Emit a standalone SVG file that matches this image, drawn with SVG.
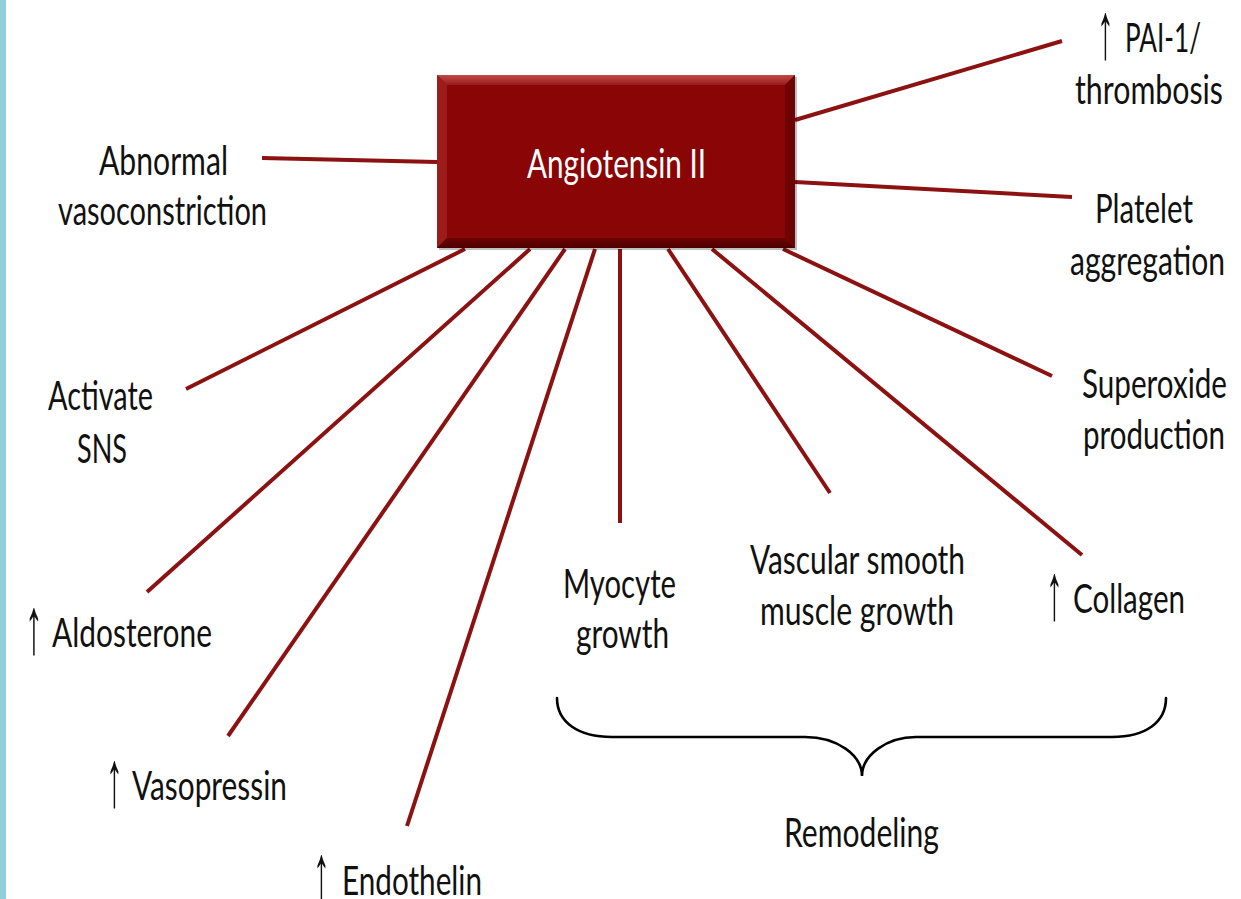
<svg xmlns="http://www.w3.org/2000/svg" width="1241" height="899" viewBox="0 0 1241 899">
  <style>
    .lbl { font-family: Lato, "Open Sans", "Liberation Sans", sans-serif; font-size: 31.5px; fill: #111; }
    .arr { font-family: "Liberation Sans", "DejaVu Sans", sans-serif; font-size: 80px; fill: #111; }
    .title { font-family: Lato, "Open Sans", "Liberation Sans", sans-serif; font-size: 31.5px; fill: #ffffff; }
    .conn { stroke: #8C1212; stroke-width: 4; stroke-linecap: butt; fill: none; }
    .brace { stroke: #000; stroke-width: 2.6; fill: none; stroke-linecap: round; }
  </style>
  <defs>
    <linearGradient id="gTop" x1="0" y1="0" x2="0" y2="1">
      <stop offset="0" stop-color="#C24A4A"/>
      <stop offset="1" stop-color="#9A1A1A"/>
    </linearGradient>
    <linearGradient id="gBot" x1="0" y1="0" x2="0" y2="1">
      <stop offset="0" stop-color="#6E0202"/>
      <stop offset="1" stop-color="#4A0000"/>
    </linearGradient>
  </defs>
  <rect x="0" y="0" width="1241" height="899" fill="#ffffff"/>
  <rect x="0" y="0" width="6" height="899" fill="#92CDDC"/>

  <g id="connectors">
    <line class="conn" x1="262" y1="158" x2="437" y2="162"/>
    <line class="conn" x1="795" y1="120" x2="1062" y2="41"/>
    <line class="conn" x1="795" y1="182" x2="1072" y2="197"/>
    <line class="conn" x1="783" y1="249" x2="1052" y2="376"/>
    <line class="conn" x1="712" y1="249" x2="1082" y2="555"/>
    <line class="conn" x1="668" y1="249" x2="830" y2="493"/>
    <line class="conn" x1="620" y1="249" x2="620" y2="523"/>
    <line class="conn" x1="595" y1="249" x2="407" y2="826"/>
    <line class="conn" x1="565" y1="249" x2="228" y2="736"/>
    <line class="conn" x1="530" y1="249" x2="147" y2="592"/>
    <line class="conn" x1="465" y1="249" x2="186" y2="389"/>
  </g>

  <g id="angiotensin">
    <rect x="439" y="77" width="358" height="173" fill="#000" opacity="0.25"/>
    <rect x="437" y="75" width="358" height="173" fill="#8A0505"/>
    <polygon points="437,75 795,75 785,85 447,85" fill="url(#gTop)"/>
    <polygon points="437,75 447,85 447,238 437,248" fill="#9C1C1C"/>
    <polygon points="795,75 795,248 785,238 785,85" fill="#6E0303"/>
    <polygon points="437,248 447,238 785,238 795,248" fill="url(#gBot)"/>
    <text class="title" transform="translate(527,178) scale(1,1.27)" textLength="179" lengthAdjust="spacingAndGlyphs">Angiotensin II</text>
  </g>

  <g id="abnormal-vasoconstriction">
    <text class="lbl" transform="translate(99,175) scale(1,1.27)" textLength="129" lengthAdjust="spacingAndGlyphs">Abnormal</text>
    <text class="lbl" transform="translate(58,225) scale(1,1.27)" textLength="209" lengthAdjust="spacingAndGlyphs">vasoconstriction</text>
  </g>

  <g id="pai-1">
    <text class="arr" transform="translate(1097,58) scale(0.25,1)" textLength="68" lengthAdjust="spacingAndGlyphs">↑</text>
    <text class="lbl" transform="translate(1125,52) scale(1,1.27)" textLength="76" lengthAdjust="spacingAndGlyphs">PAI-1/</text>
    <text class="lbl" transform="translate(1075,104) scale(1,1.27)" textLength="148" lengthAdjust="spacingAndGlyphs">thrombosis</text>
  </g>

  <g id="platelet-aggregation">
    <text class="lbl" transform="translate(1095,223) scale(1,1.27)" textLength="98" lengthAdjust="spacingAndGlyphs">Platelet</text>
    <text class="lbl" transform="translate(1070,275) scale(1,1.27)" textLength="155" lengthAdjust="spacingAndGlyphs">aggregation</text>
  </g>

  <g id="superoxide-production">
    <text class="lbl" transform="translate(1082,398) scale(1,1.27)" textLength="145" lengthAdjust="spacingAndGlyphs">Superoxide</text>
    <text class="lbl" transform="translate(1083,449) scale(1,1.27)" textLength="142" lengthAdjust="spacingAndGlyphs">production</text>
  </g>

  <g id="activate-sns">
    <text class="lbl" transform="translate(48,410) scale(1,1.27)" textLength="105" lengthAdjust="spacingAndGlyphs">Activate</text>
    <text class="lbl" transform="translate(77,463) scale(1,1.27)" textLength="50" lengthAdjust="spacingAndGlyphs">SNS</text>
  </g>

  <g id="aldosterone">
    <text class="arr" transform="translate(25,653) scale(0.25,1)" textLength="72" lengthAdjust="spacingAndGlyphs">↑</text>
    <text class="lbl" transform="translate(52,647) scale(1,1.27)" textLength="160" lengthAdjust="spacingAndGlyphs">Aldosterone</text>
  </g>

  <g id="vasopressin">
    <text class="arr" transform="translate(106,806) scale(0.25,1)" textLength="68" lengthAdjust="spacingAndGlyphs">↑</text>
    <text class="lbl" transform="translate(132,800) scale(1,1.27)" textLength="155" lengthAdjust="spacingAndGlyphs">Vasopressin</text>
  </g>

  <g id="endothelin">
    <text class="arr" transform="translate(313,900) scale(0.25,1)" textLength="68" lengthAdjust="spacingAndGlyphs">↑</text>
    <text class="lbl" transform="translate(342,895) scale(1,1.27)" textLength="140" lengthAdjust="spacingAndGlyphs">Endothelin</text>
  </g>

  <g id="myocyte-growth">
    <text class="lbl" transform="translate(563,598) scale(1,1.27)" textLength="113" lengthAdjust="spacingAndGlyphs">Myocyte</text>
    <text class="lbl" transform="translate(576,648) scale(1,1.27)" textLength="93" lengthAdjust="spacingAndGlyphs">growth</text>
  </g>

  <g id="vascular-smooth-muscle-growth">
    <text class="lbl" transform="translate(750,574) scale(1,1.27)" textLength="215" lengthAdjust="spacingAndGlyphs">Vascular smooth</text>
    <text class="lbl" transform="translate(760,625) scale(1,1.27)" textLength="194" lengthAdjust="spacingAndGlyphs">muscle growth</text>
  </g>

  <g id="collagen">
    <text class="arr" transform="translate(1046,619) scale(0.25,1)" textLength="68" lengthAdjust="spacingAndGlyphs">↑</text>
    <text class="lbl" transform="translate(1073,613) scale(1,1.27)" textLength="112" lengthAdjust="spacingAndGlyphs">Collagen</text>
  </g>

  <g id="remodeling">
    <path class="brace" d="M557,698 C557,722 578,737 612,737 L805,737 C837,737 862,755 862,776 C862,755 887,737 916,737 L1112,737 C1146,737 1166,722 1166,698"/>
    <text class="lbl" transform="translate(784,847) scale(1,1.27)" textLength="155" lengthAdjust="spacingAndGlyphs">Remodeling</text>
  </g>
</svg>
